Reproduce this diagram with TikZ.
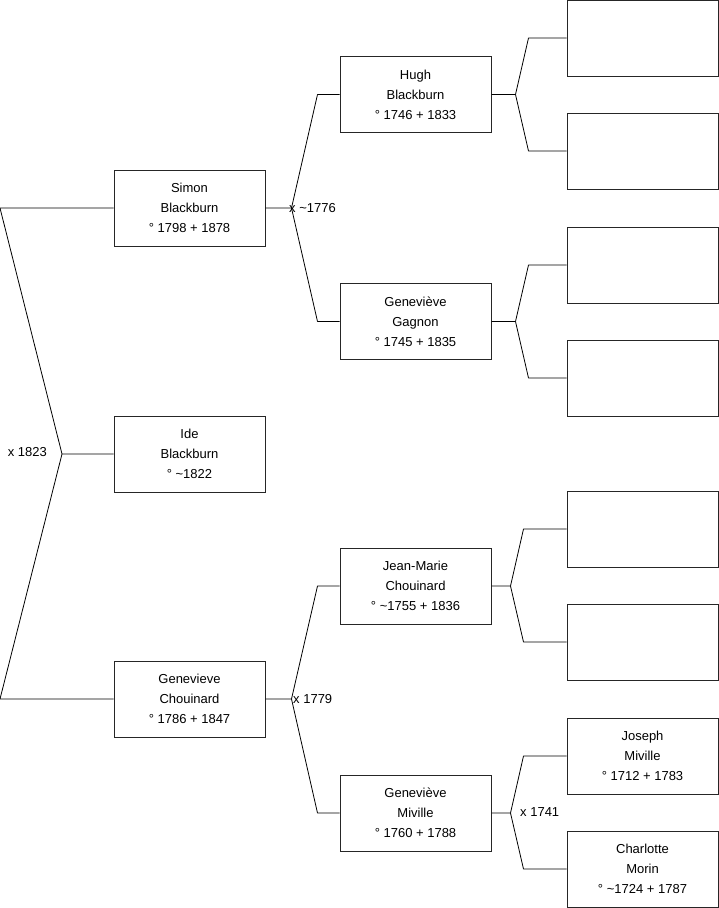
\documentclass[tikz,border=0pt]{standalone}
\usepackage{fontspec}
\setmainfont{Liberation Sans}
\usetikzlibrary{positioning}
\tikzset{person/.style={draw=black!85, line width=1pt, rectangle, inner sep=0pt,
minimum width=151pt, minimum height=76pt, align=center,
font=\fontsize{13}{20}\selectfont},
link/.style={draw, line width=0.8pt, line join=round},
marriage/.style={inner sep=0pt, font=\fontsize{13}{14}\selectfont}}

\begin{document}
\begin{tikzpicture}[x=1pt, y=-1pt]
    \useasboundingbox (0,0) rectangle (719,908);

    % Generation 1
    \node[person] (simon) at (189.5,208) {Simon\\Blackburn\\° 1798 + 1878};
    \node[person] (ide) at (189.5,454) {Ide\\Blackburn\\° \textasciitilde1822};
    \node[person] (gchouinard) at (189.5,699) {Genevieve\\Chouinard\\° 1786 + 1847};

    % Generation 2
    \node[person] (hugh) at (415.5,94.5) {Hugh\\Blackburn\\° 1746 + 1833};
    \node[person] (ggagnon) at (415.5,321.5) {Geneviève\\Gagnon\\° 1745 + 1835};
    \node[person] (jmarie) at (415.5,586) {Jean-Marie\\Chouinard\\° \textasciitilde1755 + 1836};
    \node[person] (gmiville) at (415.5,813) {Geneviève\\Miville\\° 1760 + 1788};

    % Generation 3
    \node[person] (hugh1) at (642.5,38) {};
    \node[person] (hugh2) at (642.5,151) {};
    \node[person] (gagnon1) at (642.5,265) {};
    \node[person] (gagnon2) at (642.5,378) {};
    \node[person] (jmarie1) at (642.5,529) {};
    \node[person] (jmarie2) at (642.5,642) {};
    \node[person] (joseph) at (642.5,756) {Joseph\\Miville\\° 1712 + 1783};
    \node[person] (charlotte) at (642.5,869) {Charlotte\\Morin\\° \textasciitilde1724 + 1787};

    % Parents of Ide
    \coordinate (top) at (0,208);
    \coordinate (bottom) at (0,699);
    \coordinate (fork1) at (62,454);
    \draw[link] (simon.west) -- (top) -- (fork1) -- (ide.west);
    \draw[link] (fork1) -- (bottom) -- (gchouinard.west);
    \node[marriage, anchor=east] (m1823) at (47,452) {x 1823};

    % Parents of Simon
    \draw[link] (simon.east) -- ++(26,0) coordinate (fork2) -- ([xshift=-22pt]hugh.west) -- (hugh.west);
    \draw[link] (fork2) -- ([xshift=-22pt]ggagnon.west) -- (ggagnon.west);
    \node[marriage, anchor=west] (m1776) at ([xshift=-2.5pt]fork2) {x \textasciitilde1776};

    % Parents of Genevieve
    \draw[link] (gchouinard.east) -- ++(26,0) coordinate (fork3) -- ([xshift=-22pt]jmarie.west) -- (jmarie.west);
    \draw[link] (fork3) -- ([xshift=-22pt]gmiville.west) -- (gmiville.west);
    \node[marriage, anchor=west] (m1779) at ([xshift=1.5pt]fork3) {x 1779};

    % Grandparents
    \draw[link] (hugh.east) -- ++(24,0) coordinate (fork4) -- ([xshift=-38pt]hugh1.west) -- (hugh1.west);
    \draw[link] (fork4) -- ([xshift=-38pt]hugh2.west) -- (hugh2.west);
    \draw[link] (ggagnon.east) -- ++(24,0) coordinate (fork5) -- ([xshift=-38pt]gagnon1.west) -- (gagnon1.west);
    \draw[link] (fork5) -- ([xshift=-38pt]gagnon2.west) -- (gagnon2.west);
    \draw[link] (jmarie.east) -- ++(19,0) coordinate (fork6) -- ([xshift=-43pt]jmarie1.west) -- (jmarie1.west);
    \draw[link] (fork6) -- ([xshift=-43pt]jmarie2.west) -- (jmarie2.west);
    \draw[link] (gmiville.east) -- ++(19,0) coordinate (fork7) -- ([xshift=-43pt]joseph.west) -- (joseph.west);
    \draw[link] (fork7) -- ([xshift=-43pt]charlotte.west) -- (charlotte.west);
    \node[marriage, anchor=west] (m1741) at ([xshift=9.5pt, yshift=1pt]fork7) {x 1741};
\end{tikzpicture}
\end{document}
